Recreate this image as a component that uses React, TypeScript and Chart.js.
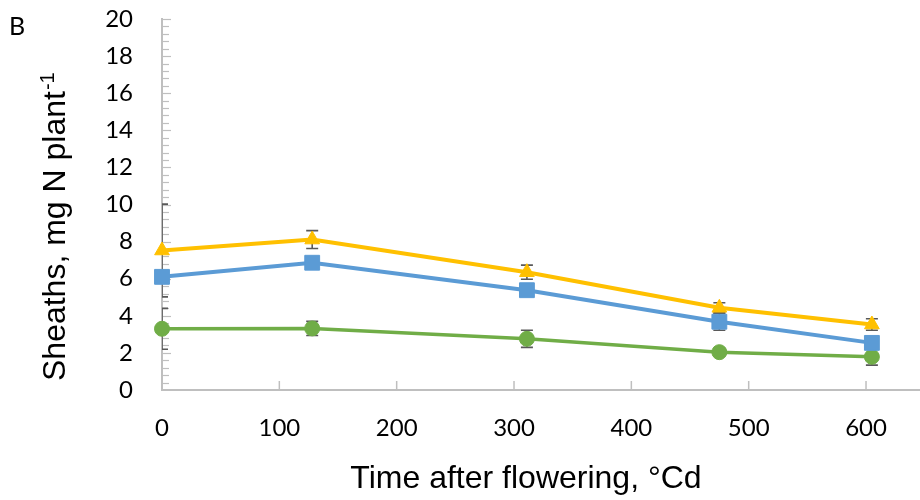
import React, { useEffect, useRef } from "react";
import { Chart, registerables } from "chart.js";

Chart.register(...registerables);

// ---- data ----
const timeValues = [0, 128, 311, 475, 605];
const yellowValues = [7.52, 8.11, 6.35, 4.43, 3.53];
const yellowErrors = [2.5, 0.48, 0.38, 0.27, 0.31];
const blueValues = [6.1, 6.86, 5.38, 3.68, 2.54];
const blueErrors = [0.3, 0.3, 0.3, 0.46, 0.3];
const greenValues = [3.3, 3.32, 2.76, 2.04, 1.79];
const greenErrors = [1.1, 0.38, 0.46, 0.2, 0.45];

const xTickValues = [0, 100, 200, 300, 400, 500, 600];

const panelLabel = "B";
const xTitle = "Time after flowering, °Cd";
const yTitleMain = "Sheaths, mg N plant";
const yTitleSup = "-1";

const Y_MIN = 0;
const Y_MAX = 20;
const Y_STEP = 2;
const Y_MINOR = 0.4;
const X_MIN = 0;
const X_MAX = 646;

const YELLOW = "#FFC000";
const BLUE = "#5B9BD5";
const GREEN = "#70AD47";
const AXIS = "#BFBFBF";
const ERR = "#595959";

const TICK_FONT = { family: "Lato", size: 24 };

const errorsByDataset = [yellowErrors, blueErrors, greenErrors];

const decorPlugin = {
  id: "decor",
  beforeDatasetsDraw(chart: any) {
    const ctx = chart.ctx;
    const xs = chart.scales.x;
    const ys = chart.scales.y;
    const area = chart.chartArea;
    ctx.save();
    // inside tick marks on y axis
    ctx.strokeStyle = AXIS;
    ctx.lineWidth = 1.2;
    const n = Math.round((Y_MAX - Y_MIN) / Y_MINOR);
    for (let i = 1; i <= n; i++) {
      const v = Y_MIN + i * Y_MINOR;
      const y = Math.round(ys.getPixelForValue(v)) + 0.5;
      const isMajor = Math.abs(v / Y_STEP - Math.round(v / Y_STEP)) < 1e-6;
      const len = isMajor ? 9 : 7;
      ctx.beginPath();
      ctx.moveTo(area.left, y);
      ctx.lineTo(area.left + len, y);
      ctx.stroke();
    }
    // inside tick marks on x axis
    ctx.lineWidth = 1.5;
    xTickValues.forEach((v) => {
      if (v === X_MIN) return;
      const x = xs.getPixelForValue(v);
      ctx.beginPath();
      ctx.moveTo(x, area.bottom);
      ctx.lineTo(x, area.bottom - 9);
      ctx.stroke();
    });
    // error bars (clipped to plot area)
    ctx.beginPath();
    ctx.rect(area.left, area.top - 2, area.right - area.left, area.bottom - area.top + 4);
    ctx.clip();
    ctx.strokeStyle = ERR;
    ctx.lineWidth = 1.6;
    chart.data.datasets.forEach((ds: any, di: number) => {
      const errs = errorsByDataset[di];
      ds.data.forEach((pt: any, i: number) => {
        const x = xs.getPixelForValue(pt.x);
        const yTop = ys.getPixelForValue(pt.y + errs[i]);
        const yBot = ys.getPixelForValue(pt.y - errs[i]);
        ctx.beginPath();
        ctx.moveTo(x, yTop);
        ctx.lineTo(x, yBot);
        ctx.moveTo(x - 6, yTop);
        ctx.lineTo(x + 6, yTop);
        ctx.moveTo(x - 6, yBot);
        ctx.lineTo(x + 6, yBot);
        ctx.stroke();
      });
    });
    ctx.restore();
  },
  afterDraw(chart: any) {
    const ctx = chart.ctx;
    ctx.save();
    ctx.fillStyle = "#000000";
    // panel label
    ctx.font = "25px Lato";
    ctx.textAlign = "left";
    ctx.textBaseline = "alphabetic";
    ctx.fillText(panelLabel, 9, 35);
    // x title
    ctx.font = "32px 'Liberation Sans'";
    ctx.textAlign = "center";
    ctx.fillText(xTitle, 526, 488);
    // y title with superscript
    ctx.translate(65, 381);
    ctx.rotate(-Math.PI / 2);
    ctx.textAlign = "left";
    ctx.font = "32px 'Liberation Sans'";
    ctx.fillText(yTitleMain, 0, 0);
    const w = ctx.measureText(yTitleMain).width;
    ctx.font = "20px 'Liberation Sans'";
    ctx.fillText(yTitleSup, w + 1, -11);
    ctx.restore();
  },
};

function toPoints(vals: number[]) {
  return timeValues.map((x, i) => ({ x, y: vals[i] }));
}

export default function App() {
  const ref = useRef<HTMLCanvasElement | null>(null);
  useEffect(() => {
    if (!ref.current) return;
    const chart = new Chart(ref.current, {
      type: "line",
      data: {
        datasets: [
          {
            data: toPoints(yellowValues),
            borderColor: YELLOW,
            backgroundColor: YELLOW,
            borderWidth: 4,
            pointStyle: "triangle",
            pointRadius: 8.5,
            pointBorderWidth: 1,
            pointBackgroundColor: YELLOW,
            pointBorderColor: YELLOW,
            clip: false,
          } as any,
          {
            data: toPoints(blueValues),
            borderColor: BLUE,
            backgroundColor: BLUE,
            borderWidth: 4,
            pointStyle: "rect",
            pointRadius: 10.5,
            pointBorderWidth: 1,
            pointBackgroundColor: BLUE,
            pointBorderColor: BLUE,
            clip: false,
          } as any,
          {
            data: toPoints(greenValues),
            borderColor: GREEN,
            backgroundColor: GREEN,
            borderWidth: 3.5,
            pointStyle: "circle",
            pointRadius: 7.5,
            pointBorderWidth: 1,
            pointBackgroundColor: GREEN,
            pointBorderColor: GREEN,
            clip: false,
          } as any,
        ],
      },
      options: {
        responsive: false,
        animation: false,
        layout: { autoPadding: false, padding: { top: 19, left: 0, right: 0, bottom: 0 } },
        plugins: {
          legend: { display: false },
          tooltip: { enabled: false },
          title: { display: false },
        },
        scales: {
          x: {
            type: "linear",
            min: X_MIN,
            max: X_MAX,
            grid: { display: false, drawTicks: false },
            border: { display: true, color: AXIS, width: 2 },
            ticks: {
              color: "#000000",
              font: TICK_FONT,
              padding: 24,
              maxRotation: 0,
              autoSkip: false,
            },
            afterBuildTicks: (scale: any) => {
              scale.ticks = xTickValues.map((v) => ({ value: v }));
            },
            afterFit: (scale: any) => {
              scale.height = 110;
              scale.paddingLeft = 0;
              scale.paddingRight = 0;
            },
          },
          y: {
            type: "linear",
            min: Y_MIN,
            max: Y_MAX,
            grid: { display: false, drawTicks: false },
            border: { display: true, color: AXIS, width: 2 },
            ticks: {
              stepSize: Y_STEP,
              color: "#000000",
              font: TICK_FONT,
              padding: 29,
            },
            afterFit: (scale: any) => {
              scale.width = 162;
              scale.paddingTop = 0;
              scale.paddingBottom = 0;
            },
          },
        },
      } as any,
      plugins: [decorPlugin],
    });
    return () => chart.destroy();
  }, []);
  return (
    <div style={{ position: "fixed", left: 0, top: 0, width: 920, height: 500, background: "#ffffff" }}>
      <canvas ref={ref} width={920} height={500} />
    </div>
  );
}
